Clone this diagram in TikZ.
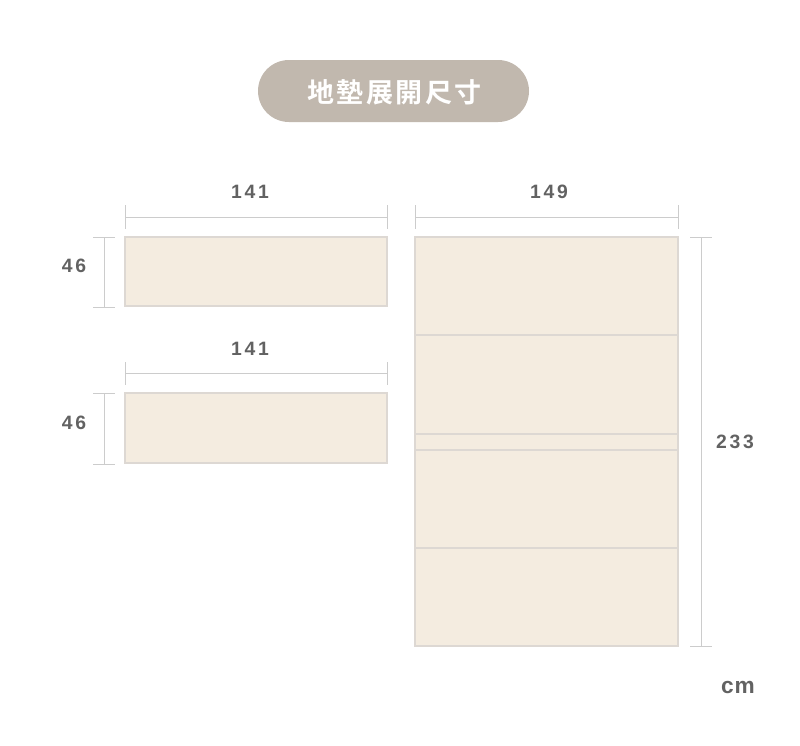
\documentclass[tikz,border=0pt]{standalone}
\usepackage{fontspec}
\setmainfont{Liberation Sans}
\newfontfamily\cjk{Noto Sans CJK TC}[BoldFont={Noto Sans CJK TC Bold}]
\newfontfamily\dimfont[LetterSpace=14]{Liberation Sans}
\newfontfamily\unitfont[LetterSpace=4]{Liberation Sans}
\definecolor{pill}{HTML}{C1B8AE}
\definecolor{matfill}{HTML}{F4ECE0}
\definecolor{matline}{HTML}{DDD8D3}
\definecolor{dimline}{HTML}{CCCCCC}
\definecolor{dimtext}{HTML}{626262}
\tikzset{
  mat/.style={fill=matfill,draw=matline,line width=0.8pt},
  sep/.style={draw=matline,line width=0.8pt},
  dim/.style={draw=dimline,line width=0.75pt},
  dimlabel/.style={anchor=base,inner sep=0pt,text=dimtext,font=\dimfont\bfseries\fontsize{14.5}{16}\selectfont},
}
\begin{document}
\begin{tikzpicture}[x=0.75pt,y=-0.75pt]
\useasboundingbox (0,0) rectangle (800,746);
\fill[white] (0,0) rectangle (800,746);
% title
\fill[pill,rounded corners=23.25pt] (258,60) rectangle (529,122);
\node (title) [text=white,inner sep=0pt,font=\cjk\bfseries\fontsize{20.25}{24}\selectfont] at (394.5,92) {地\kern1.8pt 墊\kern1.8pt 展\kern1.8pt 開\kern1.8pt 尺\kern1.8pt 寸};
% left mats
\draw[mat] (125,237) rectangle (387,306);
\draw[mat] (125,393) rectangle (387,463);
% right mat
\draw[mat] (415,237) rectangle (678,646);
\draw[sep] (415,335) -- (678,335);
\draw[sep] (415,434) -- (678,434);
\draw[sep] (415,450) -- (678,450);
\draw[sep] (415,548) -- (678,548);
% top dims
\draw[dim] (125,217) -- (387,217);
\draw[dim] (125,205) -- (125,229);
\draw[dim] (387,205) -- (387,229);
\node (w1) [dimlabel] at (250,198) {141};
\draw[dim] (125,373) -- (387,373);
\draw[dim] (125,362) -- (125,385);
\draw[dim] (387,362) -- (387,385);
\node (w2) [dimlabel] at (250,355) {141};
\draw[dim] (415,217) -- (678,217);
\draw[dim] (415,205) -- (415,229);
\draw[dim] (678,205) -- (678,229);
\node (w3) [dimlabel] at (549,198) {149};
% left vertical dims
\draw[dim] (104,237) -- (104,307);
\draw[dim] (93,237) -- (115,237);
\draw[dim] (93,307) -- (115,307);
\node (h1) [dimlabel] at (74,272) {46};
\draw[dim] (104,393) -- (104,464);
\draw[dim] (93,393) -- (115,393);
\draw[dim] (93,464) -- (115,464);
\node (h2) [dimlabel] at (74,429) {46};
% right vertical dim
\draw[dim] (701,237) -- (701,646);
\draw[dim] (690,237) -- (712,237);
\draw[dim] (690,646) -- (712,646);
\node (h3) [dimlabel] at (735,448) {233};
\node (unit) [dimlabel,font=\unitfont\bfseries\fontsize{17}{19}\selectfont] at (738,693) {cm};
\end{tikzpicture}
\end{document}
